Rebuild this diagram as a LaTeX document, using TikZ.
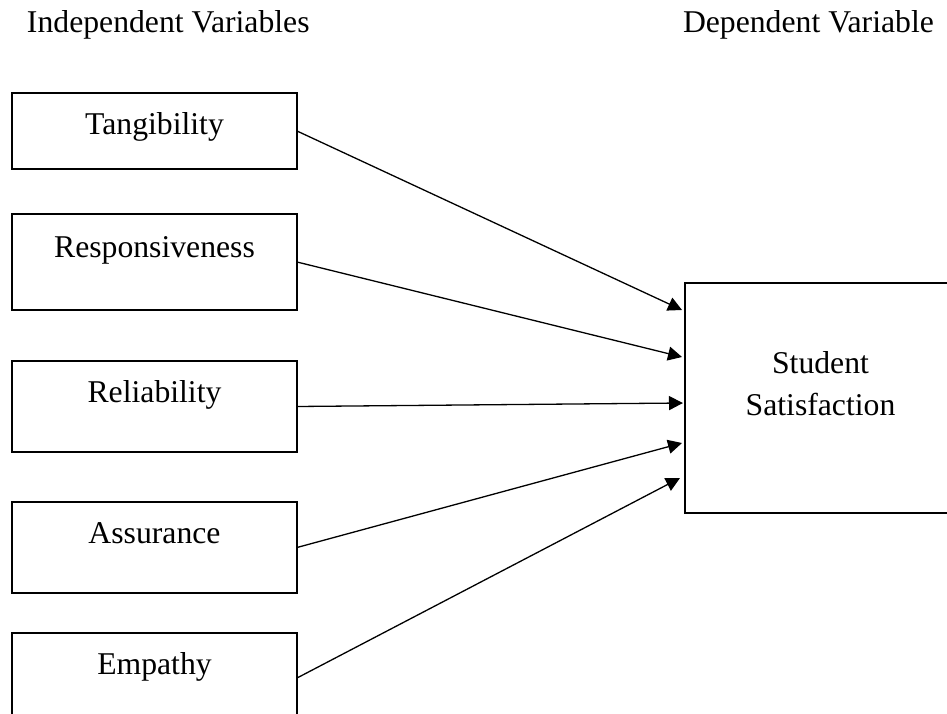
\documentclass[tikz,border=0pt]{standalone}
\usepackage{fontspec}
\setmainfont{Liberation Serif}
\usetikzlibrary{arrows.meta,calc}
\begin{document}
\begin{tikzpicture}[x=1pt,y=-1pt,
  every node/.style={font=\fontsize{31.7}{42}\selectfont, inner sep=0pt, outer sep=0pt},
  varbox/.style={draw, line width=2pt, text width=285pt, align=center, anchor=north west},
  conn/.style={line width=1.3pt, -{Triangle[length=14pt,width=14pt]}},
  head/.style={anchor=base west}
]
\useasboundingbox (0,0) rectangle (947,714);
\clip (0,0) rectangle (947,714);
\node[head] (hi) at (27,33) {Independent Variables};
\node[head] (hd) at (683,33) {Dependent Variable};
\node[varbox, text height=42pt, text depth=34pt] (tan) at (12,93) {Tangibility};
\node[varbox, text height=43pt, text depth=53pt] (res) at (12,214) {Responsiveness};
\node[varbox, text height=41pt, text depth=50pt] (rel) at (12,361) {Reliability};
\node[varbox, text height=41pt, text depth=50pt] (ass) at (12,502) {Assurance};
\node[varbox, text height=41pt, text depth=49pt] (emp) at (12,633) {Empathy};
\node[draw, line width=2pt, minimum width=271pt, minimum height=230pt, anchor=north west] (ss) at (685,283) {};
\node[align=center] (ssT) at (820.5,384) {Student\\Satisfaction};
\coordinate (t1) at ($(ss.north west)+(-3,27)$);
\coordinate (t2) at ($(ss.north west)+(-3,74)$);
\coordinate (t3) at ($(ss.north west)+(-2,120)$);
\coordinate (t4) at ($(ss.north west)+(-3,160)$);
\coordinate (t5) at ($(ss.north west)+(-5,195)$);
\draw[conn] (tan.east) -- (t1);
\draw[conn] (res.east) -- (t2);
\draw[conn] (rel.east) -- (t3);
\draw[conn] (ass.east) -- (t4);
\draw[conn] (emp.east) -- (t5);
\end{tikzpicture}
\end{document}
